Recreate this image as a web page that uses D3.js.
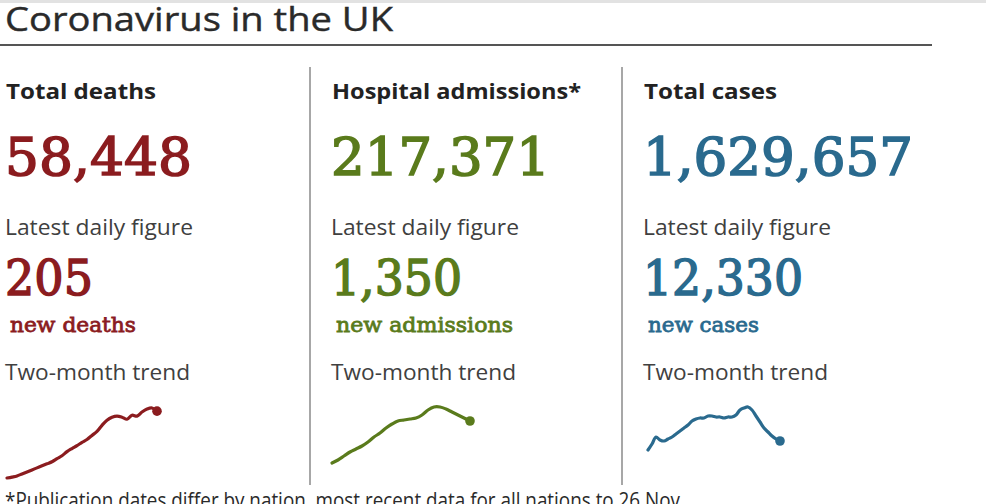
<!DOCTYPE html>
<html>
<head>
<meta charset="utf-8">
<script src="https://cdn.jsdelivr.net/npm/d3@7"></script>
<style>
  body { margin: 0; background: #fff; }
  svg { display: block; }
</style>
</head>
<body>
<div id="chart"></div>
<script>
// headline figures
const panelTitles = ["Total deaths", "Hospital admissions*", "Total cases"];
const totals = [58448, 217371, 1629657];
const latest = [205, 1350, 12330];
const latestLabels = ["new deaths", "new admissions", "new cases"];

// two-month trend lines (daily figures)
const deathsTrend = [40, 45, 51, 62, 73, 84, 95, 106, 117, 128, 145, 161, 183, 200, 216, 233,
    249, 271, 293, 326, 354, 370, 376, 370, 359, 381, 376, 398, 414, 420, 403];
const admissionsTrend = [300, 375, 475, 575, 650, 725, 825, 950, 1050, 1175, 1275, 1350,
    1375, 1400, 1425, 1500, 1625, 1700, 1700, 1650, 1575, 1500, 1425, 1350];
const casesTrend = [4000, 7000, 10500, 9000, 8500, 9500, 10500, 12000, 13500, 15000, 16500,
    18500, 19500, 20000, 20000, 21000, 21000, 20500, 20500, 20000, 20500, 20500, 21500,
    24000, 25000, 25500, 24000, 21000, 18000, 15000, 13000, 11000, 9500, 8500];

const width = 986, height = 504;
const sans = "'Open Sans', 'DejaVu Sans', sans-serif";
const serif = "'DejaVu Serif', 'Liberation Serif', serif";
const fmt = d3.format(",");

const panels = [
    { x: 5,   color: "#8b1c1f", trend: deathsTrend,     spark: [7, 157, 478, 408],
      w: { head: 150, total: 187, latest: 88, label: 126 } },
    { x: 331, color: "#5a7b1c", trend: admissionsTrend, spark: [332, 470, 463, 407],
      w: { head: 249, total: 219, latest: 131, label: 177 } },
    { x: 643, color: "#2a6a8e", trend: casesTrend,      spark: [648, 780, 450, 407],
      w: { head: 133, total: 270, latest: 160, label: 111 } }
];

const svg = d3.select("#chart").append("svg")
    .attr("width", width)
    .attr("height", height);

// faint screenshot edge at the top
svg.append("line")
    .attr("x1", 0).attr("x2", width)
    .attr("y1", 1.5).attr("y2", 1.5)
    .attr("stroke", "#e2e2e2")
    .attr("stroke-width", 3);

svg.append("text")
    .attr("x", 5)
    .attr("y", 31)
    .attr("textLength", 388)
    .attr("lengthAdjust", "spacingAndGlyphs")
    .style("font-family", sans)
    .style("font-size", "32px")
    .style("fill", "#2a2a2a")
    .style("stroke", "#2a2a2a")
    .style("stroke-width", 0.4)
    .text("Coronavirus in the UK");

svg.append("line")
    .attr("x1", 0).attr("x2", 932)
    .attr("y1", 45).attr("y2", 45)
    .attr("stroke", "#555")
    .attr("stroke-width", 2);

// dividers between panels
[310, 622].forEach(x => {
    svg.append("line")
        .attr("x1", x).attr("x2", x)
        .attr("y1", 67).attr("y2", 485)
        .attr("stroke", "#8a8a8a")
        .attr("stroke-width", 1.5);
});

function addText(x, y, str, opts) {
    const t = svg.append("text")
        .attr("x", x)
        .attr("y", y)
        .style("font-family", opts.family)
        .style("font-size", opts.size + "px")
        .style("font-weight", opts.weight || "normal")
        .style("fill", opts.fill)
        .text(str);
    if (opts.stroke) {
        t.style("stroke", opts.fill).style("stroke-width", opts.stroke);
    }
    if (opts.len) {
        t.attr("textLength", opts.len).attr("lengthAdjust", "spacingAndGlyphs");
    }
    return t;
}

panels.forEach((p, i) => {
    addText(p.x + 1, 99, panelTitles[i],
        { family: sans, size: 22, weight: "bold", fill: "#222", len: p.w.head });
    addText(p.x, 175, fmt(totals[i]),
        { family: serif, size: 52, fill: p.color, stroke: 1.6, len: p.w.total });
    addText(p.x, 235, "Latest daily figure",
        { family: sans, size: 22, fill: "#404040", len: 188 });
    addText(p.x, 295, fmt(latest[i]),
        { family: serif, size: 48, fill: p.color, stroke: 1.5, len: p.w.latest });
    addText(p.x + 5, 332, latestLabels[i],
        { family: serif, size: 21, fill: p.color, stroke: 0.8, len: p.w.label });
    addText(p.x, 380, "Two-month trend",
        { family: sans, size: 22, fill: "#404040", len: 185 });

    // sparkline
    const [x0, x1, yBottom, yTop] = p.spark;
    const x = d3.scaleLinear()
        .domain([0, p.trend.length - 1])
        .range([x0, x1]);
    const y = d3.scaleLinear()
        .domain(d3.extent(p.trend))
        .range([yBottom, yTop]);

    const line = d3.line()
        .x((d, j) => x(j))
        .y(d => y(d))
        .curve(d3.curveCatmullRom);

    svg.append("path")
        .datum(p.trend)
        .attr("d", line)
        .attr("fill", "none")
        .attr("stroke", p.color)
        .attr("stroke-width", 3.2)
        .attr("stroke-linecap", "round")
        .attr("stroke-linejoin", "round");

    const last = p.trend.length - 1;
    svg.append("circle")
        .attr("cx", x(last))
        .attr("cy", y(p.trend[last]))
        .attr("r", 4.8)
        .attr("fill", p.color);
});

addText(5, 508, "*Publication dates differ by nation, most recent data for all nations to 26 Nov",
    { family: sans, size: 22, fill: "#2a2a2a", len: 675 });
</script>
</body>
</html>
